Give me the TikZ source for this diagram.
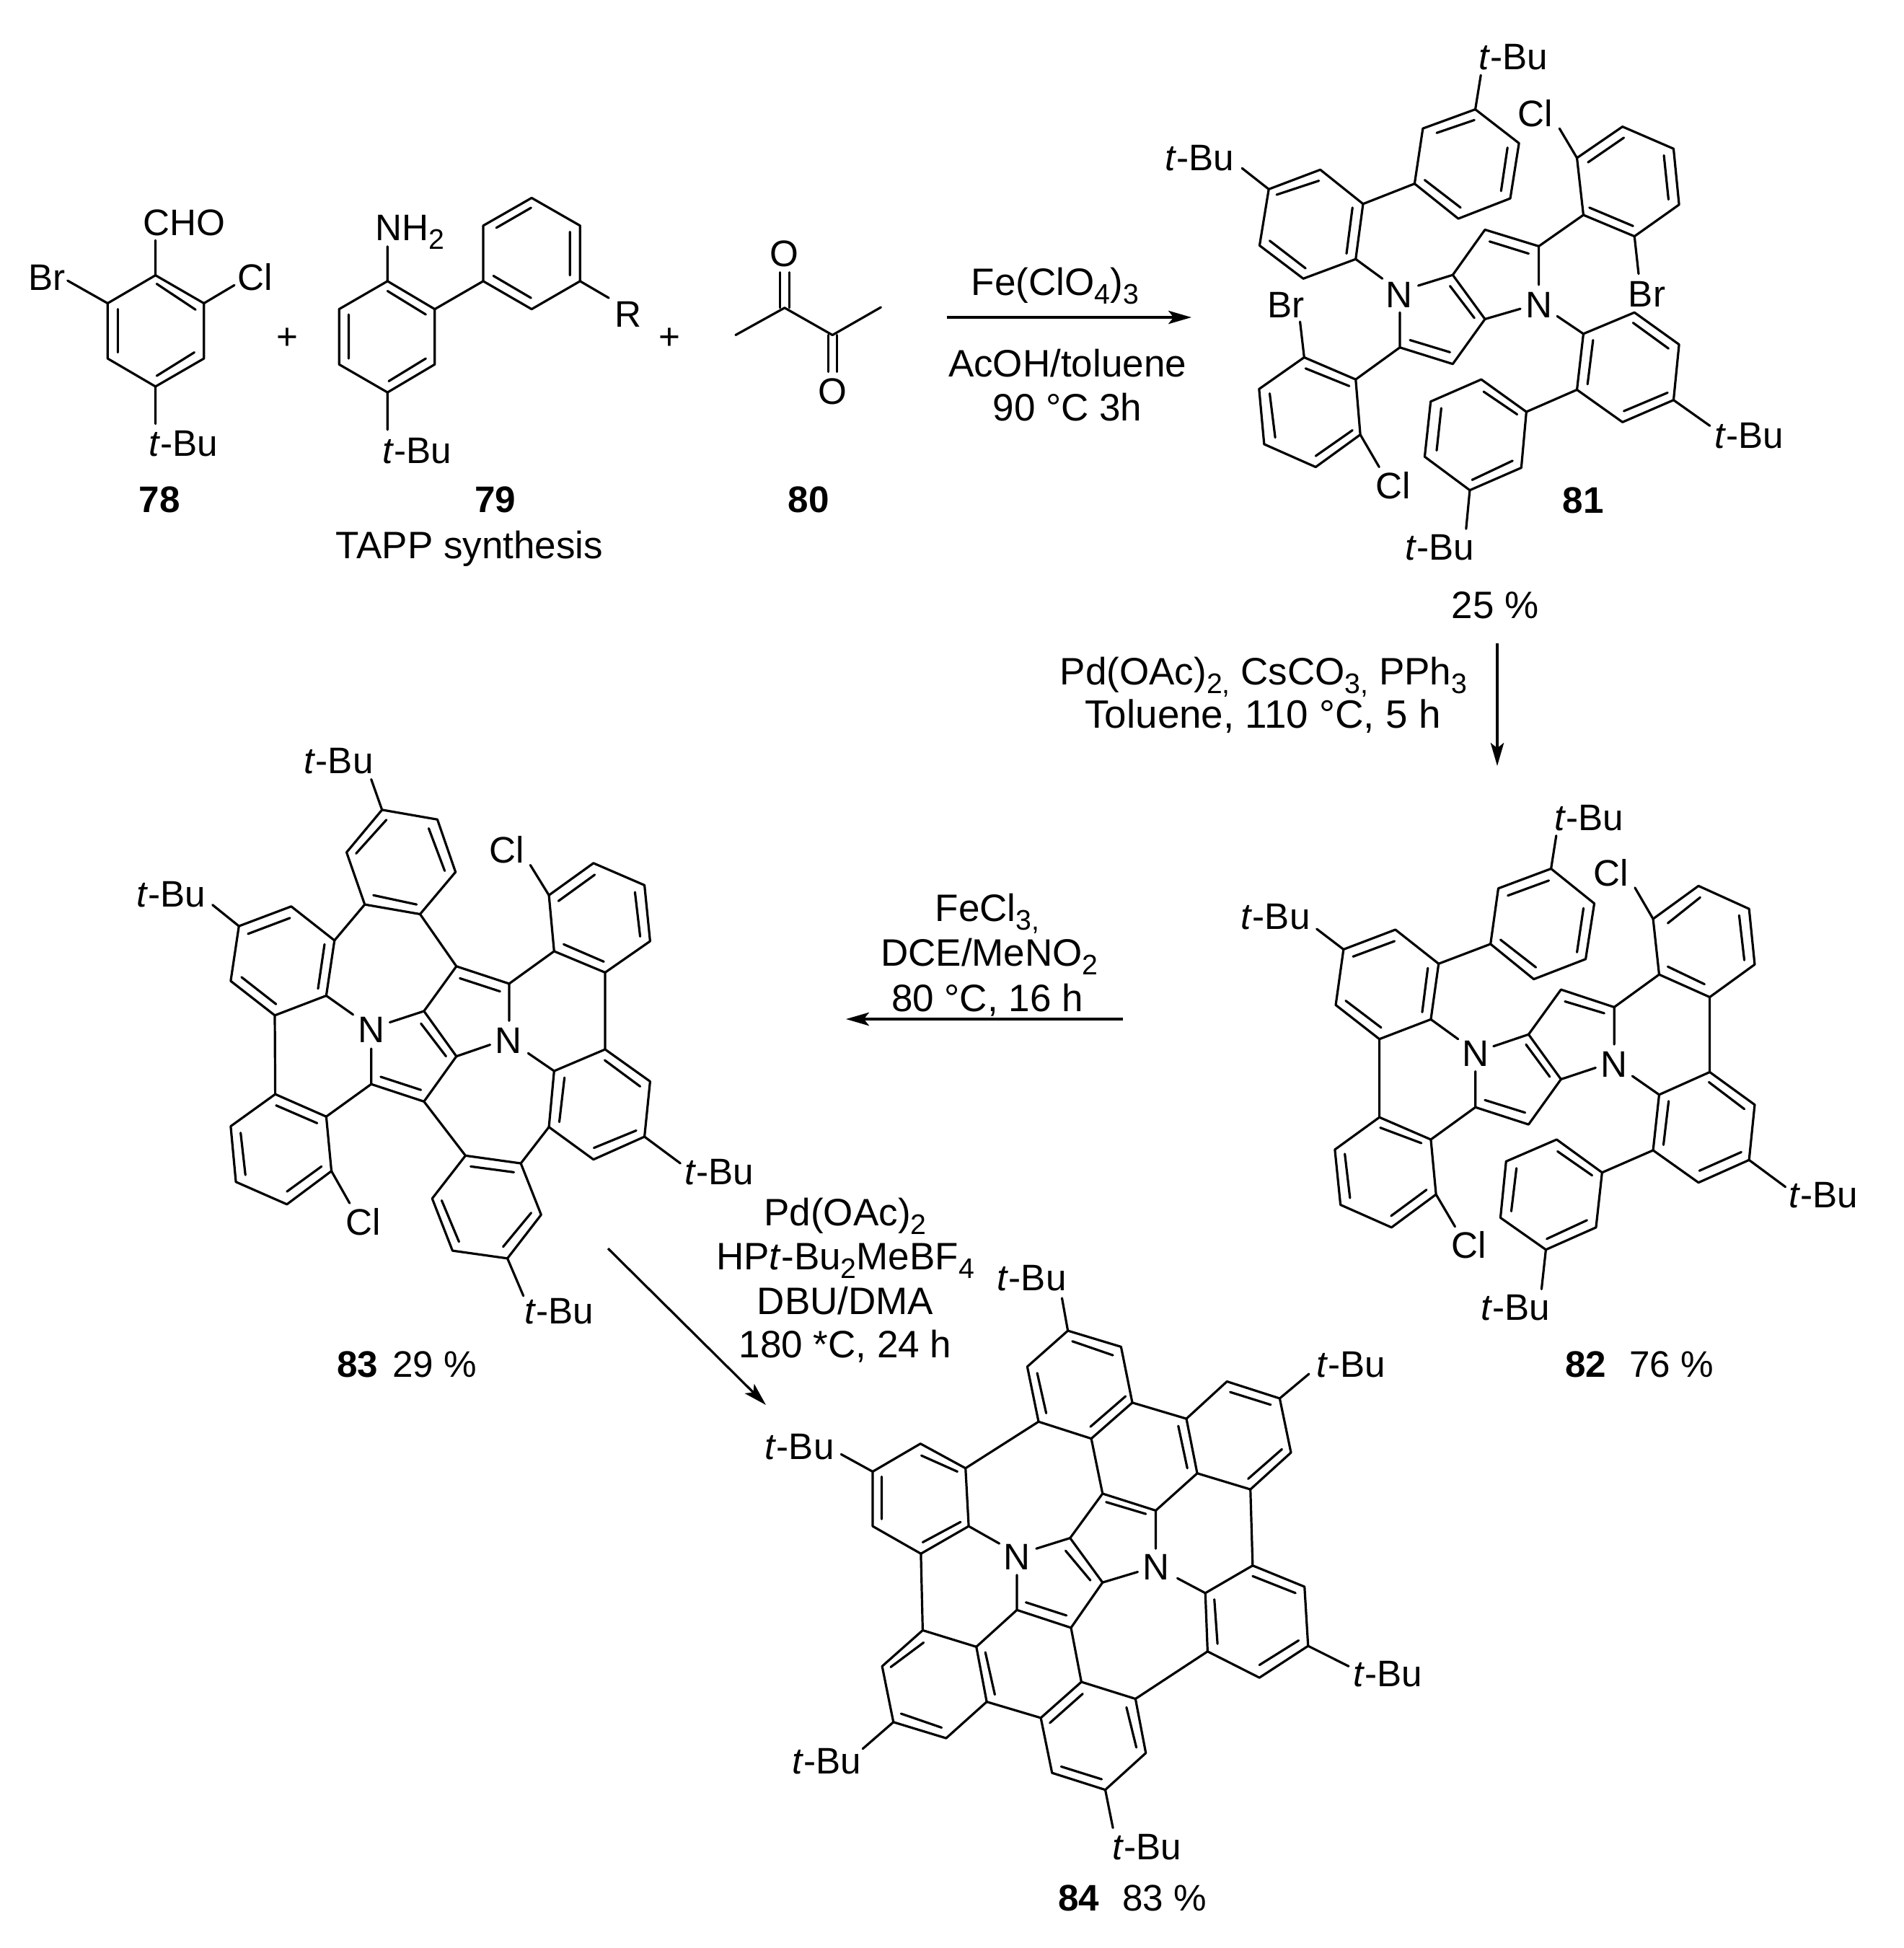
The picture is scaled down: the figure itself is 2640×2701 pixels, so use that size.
\documentclass[tikz,border=0pt]{standalone}
\usepackage{fontspec}
\setmainfont{Liberation Sans}
\usetikzlibrary{arrows.meta}
\newcommand{\tBu}{\textit{t}-Bu}
\newcommand{\subs}[1]{\raisebox{-0.23em}{\fontsize{9.8}{10}\selectfont #1}}
\tikzset{
  bond/.style={line width=0.8pt,line join=round,line cap=round},
  atom/.style={inner sep=0pt,outer sep=0pt},
  rxn/.style={inner sep=0pt,outer sep=0pt,anchor=base,font=\fontsize{13.25}{15}\selectfont},
  yieldlab/.style={inner sep=0pt,outer sep=0pt,anchor=base},
  rxnarrow/.style={line width=0.8pt,-{Stealth[length=8pt,width=4.6pt,inset=1.8pt]}},
  mol78/.style={shift={(0,240)},xscale=0.8292,yscale=0.3699},
  mol81/.style={shift={(1550,20)},xscale=0.6378,yscale=0.5102},
  mol82/.style={shift={(1680,1100)},xscale=0.5995,yscale=0.4974},
  mol83/.style={shift={(170,1020)},xscale=0.5995,yscale=0.5357},
  mol84/.style={shift={(1040,1760)},xscale=0.625,yscale=0.5867}
}
\begin{document}
\begin{tikzpicture}[x=0.25pt,y=-0.25pt,font=\fontsize{12.8}{15}\selectfont]
\path[use as bounding box,fill=white] (0,0) rectangle (2640,2701);

% starting materials
\begin{scope}[mol78]
\draw[bond] (260,383) -- (341,488) -- (341,695) -- (260,800) -- (180,695) -- (180,488) -- cycle;
\draw[bond] (262,415) -- (327,512) (197,510) -- (197,672) (325,672) -- (262,760);
\draw[bond] (260,383) -- (260,252) (180,488) -- (113,403) (341,488) -- (392,420) (260,800) -- (260,940);
\node[atom] (cho78) at (308,185) {CHO};
\node[atom] (br78) at (78,393) {Br};
\node[atom] (cl78) at (427,390) {Cl};
\node[atom] (tbu78) at (307,1015) {\tBu};
\node[atom] (plusA) at (480,620) {+};

\draw[bond] (648,405) -- (727,510) -- (727,717) -- (648,822) -- (567,717) -- (567,510) -- cycle;
\draw[bond] (648,442) -- (712,530) (583,530) -- (583,695) (712,695) -- (650,780);
\draw[bond] (648,405) -- (648,275) (648,822) -- (648,962) (727,510) -- (808,405);
\draw[bond] (808,405) -- (808,197) -- (889,93) -- (970,197) -- (970,405) -- (889,510) -- cycle;
\draw[bond] (830,205) -- (888,130) (953,220) -- (953,383) (888,468) -- (825,385);
\draw[bond] (970,405) -- (1018,468);
\node[yieldlab] (nh79) at (686,252) {NH\subs{2}};
\node[atom] (tbu79) at (697,1040) {\tBu};
\node[atom] (r79) at (1050,530) {R};
\node[atom] (plusB) at (1120,620) {+};

\draw[bond] (1230,607) -- (1312,505) -- (1392,607) -- (1473,503);
\draw[bond] (1304,505) -- (1304,372) (1320,505) -- (1320,372);
\draw[bond] (1385,607) -- (1385,745) (1400,607) -- (1400,745);
\node[atom] (o80a) at (1312,303) {O};
\node[atom] (o80b) at (1392,820) {O};

\node[atom] (lab78) at (267,1225) {\textbf{78}};
\node[atom] (lab79) at (828,1225) {\textbf{79}};
\node[atom] (lab80) at (1352,1225) {\textbf{80}};
\node[rxn] (tapp) at (785,1445) {TAPP synthesis};
\end{scope}

% tetraaryl dipyrrole
\begin{scope}[mol81]
\draw[bond] (653,737) -- (728,708) -- (798,828) -- (875,800) (722,738) -- (775,825);
\draw[bond] (728,708) -- (798,585) -- (915,630) -- (915,735) (808,617) -- (893,650);
\draw[bond] (798,828) -- (728,950) -- (613,905) -- (613,810) (635,885) -- (722,918);
\draw[bond] (915,630) -- (1012,545) (613,905) -- (517,992);
\draw[bond] (1012,545) -- (998,390) -- (1097,305) -- (1208,365) -- (1220,517) -- (1123,603) -- cycle;
\draw[bond] (1025,525) -- (1120,575) (1022,402) -- (1100,335) (1187,383) -- (1197,503);
\draw[bond] (998,390) -- (960,310) (1123,603) -- (1132,705);
\draw[bond] (517,992) -- (405,932) -- (307,1018) -- (318,1168) -- (430,1230) -- (527,1142) -- cycle;
\draw[bond] (503,1010) -- (408,962) (342,1150) -- (330,1030) (430,1200) -- (510,1130);
\draw[bond] (405,932) -- (396,835) (527,1142) -- (568,1230);
\draw[bond] (575,718) -- (517,665);
\draw[bond] (517,665) -- (533,515) -- (440,422) -- (328,475) -- (308,628) -- (403,718) -- cycle;
\draw[bond] (497,650) -- (510,525) (345,490) -- (437,452) (330,615) -- (408,690);
\draw[bond] (328,475) -- (270,418) (533,515) -- (645,460);
\draw[bond] (645,460) -- (663,310) -- (777,258) -- (872,350) -- (853,500) -- (740,555) -- cycle;
\draw[bond] (667,450) -- (745,525) (693,322) -- (775,287) (847,362) -- (833,480);
\draw[bond] (777,258) -- (789,165);
\draw[bond] (955,820) -- (1012,868);
\draw[bond] (1012,868) -- (998,1020) -- (1097,1108) -- (1208,1048) -- (1220,897) -- (1123,810) -- cycle;
\draw[bond] (1033,885) -- (1021,1005) (1100,1078) -- (1195,1028) (1120,838) -- (1197,908);
\draw[bond] (1208,1048) -- (1287,1118) (998,1020) -- (888,1080);
\draw[bond] (888,1080) -- (790,992) -- (680,1052) -- (667,1202) -- (765,1293) -- (877,1232) -- cycle;
\draw[bond] (868,1087) -- (795,1025) (703,1070) -- (693,1185) (770,1265) -- (858,1213);
\draw[bond] (765,1293) -- (757,1398);
\node[atom] (n81a) at (612,762) {N};
\node[atom] (n81b) at (915,790) {N};
\node[atom] (cl81a) at (908,268) {Cl};
\node[atom] (br81a) at (1150,760) {Br};
\node[atom] (br81b) at (365,790) {Br};
\node[atom] (cl81b) at (598,1280) {Cl};
\node[atom] (tbu81a) at (178,390) {\tBu};
\node[atom] (tbu81b) at (860,115) {\tBu};
\node[atom] (tbu81c) at (1372,1145) {\tBu};
\node[atom] (tbu81d) at (700,1448) {\tBu};
\node[atom] (lab81) at (1012,1320) {\textbf{81}};
\end{scope}

% first cyclisation
\begin{scope}[mol82]
\draw[bond] (652,705) -- (733,672) -- (808,797) -- (888,765) (727,700) -- (782,790);
\draw[bond] (733,672) -- (808,547) -- (931,596) -- (931,700) (817,580) -- (908,613);
\draw[bond] (808,797) -- (733,923) -- (610,875) -- (610,775) (632,855) -- (725,890);
\draw[bond] (931,596) -- (1035,505) (610,875) -- (507,965);
\draw[bond] (1035,505) -- (1021,350) -- (1126,258) -- (1243,322) -- (1256,477) -- (1152,568) -- cycle;
\draw[bond] (1055,483) -- (1140,532) (1055,362) -- (1130,290) (1220,340) -- (1232,465);
\draw[bond] (1021,350) -- (979,263) (1152,568) -- (1152,777);
\draw[bond] (1152,777) -- (1035,840) -- (1021,995) -- (1126,1085) -- (1243,1022) -- (1256,868) -- cycle;
\draw[bond] (1150,805) -- (1232,880) (1057,858) -- (1045,980) (1128,1052) -- (1225,1000);
\draw[bond] (973,788) -- (1035,840) (1243,1022) -- (1327,1097) (1021,995) -- (903,1057);
\draw[bond] (903,1057) -- (798,965) -- (681,1026) -- (668,1183) -- (773,1272) -- (889,1210) -- cycle;
\draw[bond] (880,1065) -- (800,998) (705,1045) -- (693,1165) (775,1242) -- (868,1190);
\draw[bond] (773,1272) -- (763,1382);
\draw[bond] (507,965) -- (388,903) -- (285,993) -- (298,1147) -- (416,1210) -- (519,1118) -- cycle;
\draw[bond] (485,975) -- (390,932) (308,1005) -- (320,1128) (415,1178) -- (497,1105);
\draw[bond] (519,1118) -- (563,1208) (388,903) -- (388,685);
\draw[bond] (388,685) -- (507,630) -- (525,475) -- (425,380) -- (305,435) -- (287,590) -- cycle;
\draw[bond] (487,610) -- (500,487) (327,455) -- (423,412) (310,578) -- (392,653);
\draw[bond] (570,685) -- (507,630) (305,435) -- (243,378) (525,475) -- (645,420);
\draw[bond] (645,420) -- (663,265) -- (785,210) -- (885,307) -- (865,462) -- (745,518) -- cycle;
\draw[bond] (668,408) -- (750,485) (685,285) -- (780,243) (860,320) -- (845,443);
\draw[bond] (785,210) -- (797,118);
\node[atom] (n82a) at (610,725) {N};
\node[atom] (n82b) at (930,755) {N};
\node[atom] (cl82a) at (923,222) {Cl};
\node[atom] (cl82b) at (595,1258) {Cl};
\node[atom] (tbu82a) at (148,345) {\tBu};
\node[atom] (tbu82b) at (873,68) {\tBu};
\node[atom] (tbu82c) at (1415,1120) {\tBu};
\node[atom] (tbu82d) at (702,1433) {\tBu};
\end{scope}

% second cyclisation
\begin{scope}[mol83]
\draw[bond] (618,742) -- (697,713) -- (772,830) -- (850,800) (690,745) -- (748,830);
\draw[bond] (697,713) -- (772,597) -- (894,642) -- (894,738) (780,628) -- (873,662);
\draw[bond] (772,830) -- (697,947) -- (575,902) -- (575,810) (597,883) -- (690,917);
\draw[bond] (772,597) -- (688,462);
\draw[bond] (688,462) -- (560,437) -- (518,302) -- (600,192) -- (728,217) -- (770,353) -- cycle;
\draw[bond] (680,437) -- (580,413) (540,305) -- (610,218) (708,240) -- (745,350);
\draw[bond] (600,192) -- (575,113) (560,437) -- (490,530);
\draw[bond] (490,530) -- (471,673) -- (352,724) -- (250,635) -- (269,493) -- (390,442) -- cycle;
\draw[bond] (467,540) -- (452,655) (355,695) -- (275,625) (290,513) -- (387,472);
\draw[bond] (533,722) -- (471,673) (269,493) -- (208,438) (352,724) -- (353,928);
\draw[bond] (353,928) -- (471,986) -- (483,1127) -- (380,1213) -- (262,1155) -- (250,1011) -- cycle;
\draw[bond] (355,957) -- (450,1003) (380,1180) -- (460,1115) (284,1137) -- (273,1028);
\draw[bond] (471,986) -- (575,902) (483,1127) -- (525,1210) (697,947) -- (793,1087);
\draw[bond] (793,1087) -- (921,1107) -- (968,1240) -- (890,1353) -- (763,1333) -- (716,1198) -- cycle;
\draw[bond] (805,1115) -- (905,1130) (945,1235) -- (880,1323) (778,1310) -- (738,1203);
\draw[bond] (890,1353) -- (927,1450) (921,1107) -- (986,1013);
\draw[bond] (986,1013) -- (998,868) -- (1116,812) -- (1220,895) -- (1207,1038) -- (1089,1097) -- cycle;
\draw[bond] (1010,1000) -- (1022,885) (1115,840) -- (1197,908) (1090,1067) -- (1188,1022);
\draw[bond] (938,822) -- (998,868) (1207,1038) -- (1290,1107) (1116,812) -- (1116,613);
\draw[bond] (1116,613) -- (998,558) -- (986,413) -- (1089,330) -- (1207,387) -- (1220,532) -- cycle;
\draw[bond] (1113,585) -- (1020,540) (1008,428) -- (1092,360) (1185,405) -- (1197,520);
\draw[bond] (998,558) -- (894,642) (986,413) -- (943,335);
\node[atom] (n83a) at (575,762) {N};
\node[atom] (n83b) at (893,790) {N};
\node[atom] (cl83a) at (888,295) {Cl};
\node[atom] (cl83b) at (557,1258) {Cl};
\node[atom] (tbu83a) at (500,65) {\tBu};
\node[atom] (tbu83b) at (112,410) {\tBu};
\node[atom] (tbu83c) at (1380,1130) {\tBu};
\node[atom] (tbu83d) at (1009,1490) {\tBu};
\end{scope}

% final nanographene
\begin{scope}[mol84]
\draw[bond] (635,660) -- (710,635) -- (782,740) -- (860,715) (700,665) -- (755,735);
\draw[bond] (710,635) -- (782,530) -- (900,570) -- (900,660) (790,550) -- (878,578);
\draw[bond] (782,740) -- (712,847) -- (592,805) -- (592,722) (612,787) -- (702,818);
\draw[bond] (782,530) -- (757,400) (900,570) -- (992,482);
\draw[bond] (757,400) -- (640,360) -- (615,230) -- (705,145) -- (823,183) -- (848,315) -- cycle;
\draw[bond] (755,372) -- (833,300) (715,170) -- (805,203) (657,340) -- (637,245);
\draw[bond] (705,145) -- (692,68) (848,315) -- (968,353);
\draw[bond] (968,353) -- (992,482) -- (1110,520) -- (1200,433) -- (1175,305) -- (1058,265) -- cycle;
\draw[bond] (950,370) -- (970,470) (1105,495) -- (1180,425) (1065,290) -- (1155,320);
\draw[bond] (1175,305) -- (1240,247) (1110,520) -- (1115,700);
\draw[bond] (1115,700) -- (1010,765) -- (1015,903) -- (1130,965) -- (1238,890) -- (1230,750) -- cycle;
\draw[bond] (1115,725) -- (1210,765) (1030,780) -- (1037,885) (1130,935) -- (1217,877);
\draw[bond] (948,730) -- (1010,765) (1238,890) -- (1328,938) (1015,903) -- (855,1015);
\draw[bond] (855,1015) -- (735,975) -- (645,1060) -- (670,1190) -- (788,1230) -- (878,1143) -- cycle;
\draw[bond] (738,1003) -- (665,1072) (690,1175) -- (780,1205) (857,1130) -- (835,1035);
\draw[bond] (788,1230) -- (805,1320) (735,975) -- (712,847) (645,1060) -- (525,1022) (592,805) -- (502,892);
\draw[bond] (502,892) -- (525,1022) -- (435,1108) -- (318,1070) -- (293,938) -- (383,853) -- cycle;
\draw[bond] (522,905) -- (543,1005) (425,1083) -- (335,1050) (312,940) -- (385,882);
\draw[bond] (318,1070) -- (250,1133) (383,853) -- (379,672);
\draw[bond] (379,672) -- (485,607) -- (478,470) -- (378,412) -- (272,478) -- (272,607) -- cycle;
\draw[bond] (383,645) -- (467,597) (460,478) -- (380,440) (292,490) -- (292,590);
\draw[bond] (553,648) -- (485,607) (272,478) -- (202,437) (478,470) -- (640,360);
\node[atom] (n84a) at (592,680) {N};
\node[atom] (n84b) at (900,703) {N};
\node[atom] (tbu84a) at (625,20) {\tBu};
\node[atom] (tbu84b) at (1333,225) {\tBu};
\node[atom] (tbu84c) at (1415,957) {\tBu};
\node[atom] (tbu84d) at (880,1365) {\tBu};
\node[atom] (tbu84e) at (170,1162) {\tBu};
\node[atom] (tbu84f) at (110,420) {\tBu};
\end{scope}

% conditions and yields
\node[rxn] (feclo) at (1463,409) {Fe(ClO\subs{4})\subs{3}};
\node[rxn] (acoh) at (1480,522) {AcOH/toluene};
\node[rxn] (temp81) at (1480,583) {90 °C 3h};
\node[rxn] (yield81) at (2073,857) {25 \%};
\node[rxn] (pdcat) at (1752,949) {Pd(OAc)\subs{2,} CsCO\subs{3,} PPh\subs{3}};
\node[rxn,font=\fontsize{13.7}{15}\selectfont] (temp82) at (1751,1009) {Toluene, 110 °C, 5 h};
\node[rxn] (fecl) at (1369,1277) {FeCl\subs{3,}};
\node[rxn] (dce) at (1372,1339) {DCE/MeNO\subs{2}};
\node[rxn] (temp83) at (1369,1402) {80 °C, 16 h};
\node[rxn] (pdoac) at (1172,1699) {Pd(OAc)\subs{2}};
\node[rxn] (phos) at (1172,1760) {HP\textit{t}-Bu\subs{2}MeBF\subs{4}};
\node[rxn] (dbu) at (1172,1822) {DBU/DMA};
\node[rxn] (temp84) at (1172,1882) {180 *C, 24 h};
\node[yieldlab] (lab82) at (2273,1909) {\textbf{82}\hspace{8pt}76 \%};
\node[yieldlab] (lab83) at (564,1909) {\textbf{83}\hspace{5pt}29 \%};
\node[yieldlab] (lab84) at (1570,2649) {\textbf{84}\hspace{8pt}83 \%};

\coordinate (arrAs) at (1313,440);
\coordinate (arrAe) at (1652,440);
\coordinate (arrBs) at (2076,892);
\coordinate (arrBe) at (2076,1062);
\coordinate (arrCs) at (1557,1413);
\coordinate (arrCe) at (1173,1413);
\coordinate (arrDs) at (843,1731);
\coordinate (arrDe) at (1062,1948);
\draw[rxnarrow] (arrAs) -- (arrAe);
\draw[rxnarrow] (arrBs) -- (arrBe);
\draw[rxnarrow] (arrCs) -- (arrCe);
\draw[rxnarrow] (arrDs) -- (arrDe);
\end{tikzpicture}
\end{document}
